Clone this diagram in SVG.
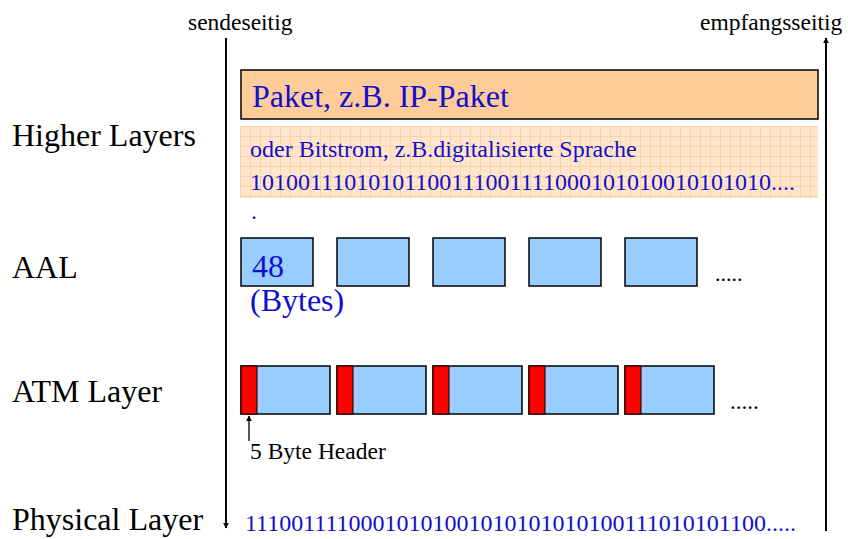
<svg xmlns="http://www.w3.org/2000/svg" width="848" height="539" viewBox="0 0 848 539">
<defs>
<style>
text{font-family:"Liberation Serif","Times New Roman",serif}
.lbl{font-size:32px;fill:#000}
.blue{fill:#1010CC}
.cell{fill:#99CCFF;stroke:#000;stroke-width:1.5}
.hdr{fill:#FF0000;stroke:#000;stroke-width:1}
.ax{stroke:#000;stroke-width:2;fill:none}
</style>
<pattern id="grid" width="10" height="10" patternUnits="userSpaceOnUse" x="240" y="126">
<rect width="10" height="10" fill="#FFE6CC"/>
<path d="M0 0.5H10M0.5 0V10" stroke="#FFD2A6" stroke-width="1"/>
</pattern>
<marker id="ah" viewBox="0 0 10 10" refX="9" refY="5" markerWidth="6" markerHeight="6" orient="auto" markerUnits="userSpaceOnUse">
<path d="M0 0L10 5L0 10z" fill="#000"/>
</marker>
</defs>
<g id="connectors">
<line class="ax" x1="226" y1="38" x2="226" y2="528" marker-end="url(#ah)"/>
<line class="ax" x1="826" y1="531" x2="826" y2="38" marker-end="url(#ah)"/>
<line x1="249" y1="441" x2="249" y2="416" stroke="#000" stroke-width="1.3" marker-end="url(#ah)"/>
</g>
<g id="side-labels">
<text x="188" y="30" font-size="23.5">sendeseitig</text>
<text x="700" y="30" font-size="23.5">empfangsseitig</text>
</g>
<g id="layer-labels">
<text class="lbl" x="12" y="146">Higher Layers</text>
<text class="lbl" x="12" y="278">AAL</text>
<text class="lbl" x="12" y="402">ATM Layer</text>
<text class="lbl" x="12" y="530">Physical Layer</text>
</g>
<g id="paket">
<rect x="241" y="70" width="577" height="49" fill="#FFCC99" stroke="#000" stroke-width="1.5"/>
<text class="blue" x="252" y="107" font-size="32">Paket, z.B. IP-Paket</text>
</g>
<g id="bitstrom">
<rect x="240" y="126" width="578" height="72" fill="url(#grid)"/>
<text class="blue" x="250" y="157" font-size="24">oder Bitstrom, z.B.digitalisierte Sprache</text>
<text class="blue" x="250" y="190" font-size="24">10100111010101100111001111000101010010101010....</text>
<text class="blue" x="251" y="219" font-size="24">.</text>
</g>
<g id="aal">
<rect class="cell" x="241" y="238" width="72" height="48"/>
<rect class="cell" x="337" y="238" width="72" height="48"/>
<rect class="cell" x="433" y="238" width="72" height="48"/>
<rect class="cell" x="529" y="238" width="72" height="48"/>
<rect class="cell" x="625" y="238" width="72" height="48"/>
<text class="blue" x="252" y="277" font-size="32">48</text>
<text class="blue" x="250" y="311" font-size="32">(Bytes)</text>
<text x="715" y="281" font-size="22">.....</text>
</g>
<g id="atm">
<rect class="cell" x="241" y="366" width="89" height="48"/>
<rect class="hdr" x="241" y="366" width="16" height="48"/>
<rect class="cell" x="337" y="366" width="89" height="48"/>
<rect class="hdr" x="337" y="366" width="16" height="48"/>
<rect class="cell" x="433" y="366" width="89" height="48"/>
<rect class="hdr" x="433" y="366" width="16" height="48"/>
<rect class="cell" x="529" y="366" width="89" height="48"/>
<rect class="hdr" x="529" y="366" width="16" height="48"/>
<rect class="cell" x="625" y="366" width="89" height="48"/>
<rect class="hdr" x="625" y="366" width="16" height="48"/>
<text x="730" y="409" font-size="23">.....</text>
<text x="250" y="459" font-size="23.5">5 Byte Header</text>
</g>
<g id="physical">
<text class="blue" x="245" y="531" font-size="24">11100111100010101001010101010100111010101100.....</text>
</g>
</svg>
